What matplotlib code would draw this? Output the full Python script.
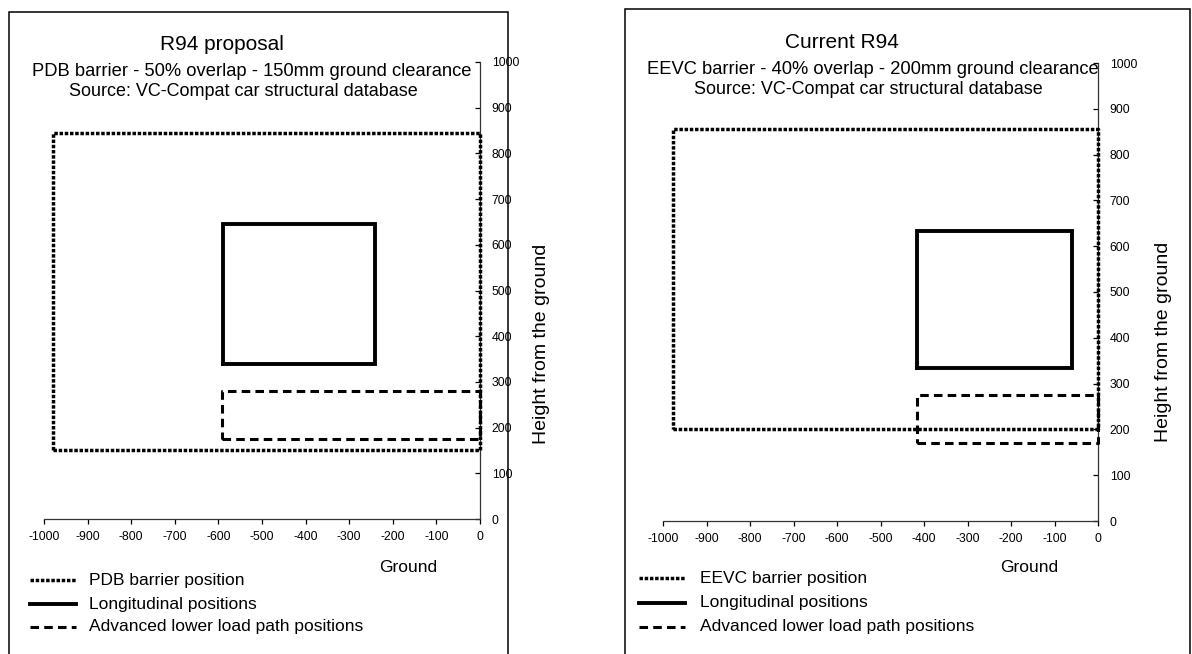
import matplotlib
matplotlib.use("Agg")
from matplotlib import pyplot as plt
from matplotlib.patches import Rectangle

plt.rcParams['font.family'] = ['Liberation Sans', 'DejaVu Sans']
plt.rcParams['axes.unicode_minus'] = False

# rectangles as (x from, x to, y from, y to) in mm
pdb_barrier = [-980, 0, 150, 845]
pdb_longitudinal = [-590, -240, 340, 645]
pdb_lower_path = [-592, 0, 175, 280]

eevc_barrier = [-977, 0, 200, 855]
eevc_longitudinal = [-415, -60, 335, 633]
eevc_lower_path = [-415, 0, 170, 275]

x_ticks = list(range(-1000, 1, 100))
y_ticks = list(range(0, 1001, 100))

legend_labels_left = ['PDB barrier position', 'Longitudinal positions',
                      'Advanced lower load path positions']
legend_labels_right = ['EEVC barrier position', 'Longitudinal positions',
                       'Advanced lower load path positions']

DOT = dict(color='black', lw=2.5, linestyle=(0, (1, 0.5)), dash_capstyle='butt')
SOLID = dict(color='black', lw=2.8, solid_joinstyle='miter')
DASH = dict(color='black', lw=2.2, linestyle=(0, (2.8, 1.7)), dash_capstyle='butt')

W, H = 1192, 654
fig = plt.figure(figsize=(W / 100, H / 100), dpi=100)


def fx(px):
    return px / W


def fy(py):
    return 1 - py / H


def outline(ax, r, style):
    x0, x1, y0, y1 = r
    ax.plot([x0, x1, x1, x0, x0], [y0, y0, y1, y1, y0], zorder=3, clip_on=False, **style)


def setup_axes(ax):
    ax.set_xlim(-1000, 0)
    ax.set_ylim(0, 1000)
    ax.set_xticks(x_ticks)
    ax.set_yticks(y_ticks)
    ax.yaxis.tick_right()
    for s in ['top', 'left']:
        ax.spines[s].set_visible(False)
    for s in ['bottom', 'right']:
        ax.spines[s].set_linewidth(0.9)
        ax.spines[s].set_color('#333333')
    ax.tick_params(axis='x', direction='out', length=3.5, width=0.9, pad=5, labelsize=8.8)
    ax.tick_params(axis='y', direction='in', length=3.5, width=0.9, pad=8.5, labelsize=8.8)
    ax.patch.set_alpha(0)


def legend_rows(x_handle, x_text, ys, labels):
    styles = [DOT, SOLID, DASH]
    for y, lab, st in zip(ys, labels, styles):
        fig.add_artist(plt.Line2D([fx(x_handle), fx(x_handle + 46)], [fy(y), fy(y)],
                                  transform=fig.transFigure, **st))
        fig.text(fx(x_text), fy(y), lab, fontsize=12.5, va='center', ha='left')


# outer boxes
fig.add_artist(Rectangle((fx(9), fy(660)), fx(499), fy(12) - fy(660), fill=False,
                         lw=1.1, ec='black', transform=fig.transFigure))
fig.add_artist(Rectangle((fx(625), fy(660)), fx(565), fy(9) - fy(660), fill=False,
                         lw=1.1, ec='black', transform=fig.transFigure))

# left panel
ax1 = fig.add_axes([fx(44), fy(519), fx(436), fy(62) - fy(519)])
setup_axes(ax1)
outline(ax1, pdb_barrier, DOT)
outline(ax1, pdb_longitudinal, SOLID)
outline(ax1, pdb_lower_path, DASH)
fig.text(fx(222), fy(44), 'R94 proposal', fontsize=15, ha='center', va='center')
fig.text(fx(252), fy(72), 'PDB barrier - 50% overlap - 150mm ground clearance',
         fontsize=13.2, ha='center', va='center')
fig.text(fx(243), fy(92), 'Source: VC-Compat car structural database',
         fontsize=13, ha='center', va='center')
fig.text(fx(408), fy(567), 'Ground', fontsize=12.5, ha='center', va='center')
fig.text(fx(542), fy(344), 'Height from the ground', fontsize=14, rotation=90,
         ha='center', va='center')
legend_rows(30, 89, [580, 604, 627], legend_labels_left)

# right panel
ax2 = fig.add_axes([fx(663), fy(521), fx(435), fy(63) - fy(521)])
setup_axes(ax2)
outline(ax2, eevc_barrier, DOT)
outline(ax2, eevc_longitudinal, SOLID)
outline(ax2, eevc_lower_path, DASH)
fig.text(fx(842), fy(42), 'Current R94', fontsize=15, ha='center', va='center')
fig.text(fx(873), fy(69), 'EEVC barrier - 40% overlap - 200mm ground clearance',
         fontsize=13.2, ha='center', va='center')
fig.text(fx(868), fy(90), 'Source: VC-Compat car structural database',
         fontsize=13, ha='center', va='center')
fig.text(fx(1029), fy(567), 'Ground', fontsize=12.5, ha='center', va='center')
fig.text(fx(1163), fy(342), 'Height from the ground', fontsize=14, rotation=90,
         ha='center', va='center')
legend_rows(639, 700, [578, 603, 627], legend_labels_right)

fig.savefig('out.png', dpi=100)
